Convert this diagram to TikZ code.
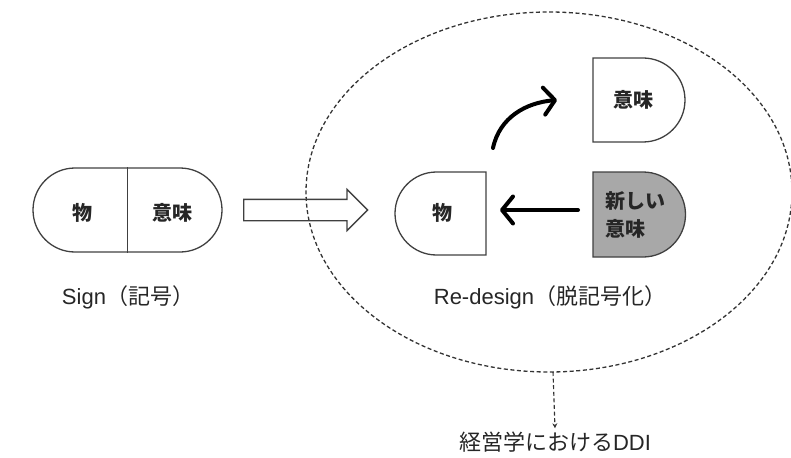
\documentclass[tikz,border=0pt]{standalone}
\usepackage{fontspec}
\setmainfont{Liberation Sans}
\newfontfamily\jp{Noto Sans CJK JP}
\usetikzlibrary{arrows.meta,shapes.misc,shapes.geometric,shapes.arrows,calc}
\begin{document}
\begin{tikzpicture}[x=1pt,y=1pt,
  outline/.style={draw=black!75, line width=1.3pt},
  lbl/.style={font=\fontsize{22}{26}\selectfont, text=black!85},
  inner/.style={font=\jp\bfseries\fontsize{20}{28}\selectfont, text=black!85, inner sep=0pt},
  bigarrow/.style={line width=4pt, line cap=round, -{Straight Barb[length=11pt,width=27pt,round]}},
  dashline/.style={draw=black!80, line width=1.3pt, dash pattern=on 4pt off 2.6pt}]
\useasboundingbox (0,0) rectangle (791,-457);

% the sign: thing and meaning joined in one capsule
\node[rounded rectangle, outline, minimum width=189pt, minimum height=84pt, inner sep=0pt] (sign) at (127.5,-210) {};
\draw[outline] (sign.north) -- (sign.south);
\node[inner] (thing1) at (82,-213) {物};
\node[inner] (meaning1) at (172,-213) {意味};
\node[lbl] (signlbl) at (128,-297) {Sign{\jp （記号）}};

% re-design zone
\node[ellipse, dashline, minimum width=486pt, minimum height=360pt, inner sep=0pt] (zone) at (549,-192) {};

% hollow transition arrow
\node[single arrow, outline, minimum height=124pt, inner sep=10pt,
      single arrow head extend=10pt, anchor=west] (shift) at (243,-210) {};

% thing half
\draw[outline] (486,-172) -- (436.5,-172) arc[start angle=90,end angle=270,radius=41.5] -- (486,-255) -- cycle;
\node[inner] (thing2) at (442,-213) {物};

% old meaning half
\draw[outline] (593,-58) -- (643,-58) arc[start angle=90,end angle=-90,radius=42] -- (593,-142) -- cycle;
\node[inner] (meaning2) at (633,-100) {意味};

% new meaning half
\draw[outline, fill=black!34] (593,-172) -- (643,-172) arc[start angle=90,end angle=-90,radius=42.5] -- (593,-257) -- cycle;
\node[inner, align=left, anchor=west] (newmeaning) at (605,-215) {新しい\\意味};

% arrows between the halves
\coordinate (liftstart) at (493,-148);
\coordinate (liftend) at (557,-100);
\draw[bigarrow] (liftstart) to[out=78,in=185] (liftend);
\coordinate (backstart) at (578,-210);
\coordinate (backend) at (500,-210);
\draw[bigarrow] (backstart) -- (backend);

\node[lbl] (redesign) at (550,-297) {Re-design{\jp （脱記号化）}};

% outcome
\node[lbl] (ddi) at (555,-442) {{\jp 経営学における}DDI};
\coordinate (zonefoot) at (553,-372);
\draw[dashline, line width=1.1pt, -{Stealth[length=5pt,width=5pt]}] (zonefoot) -- (ddi.north);
\end{tikzpicture}
\end{document}
